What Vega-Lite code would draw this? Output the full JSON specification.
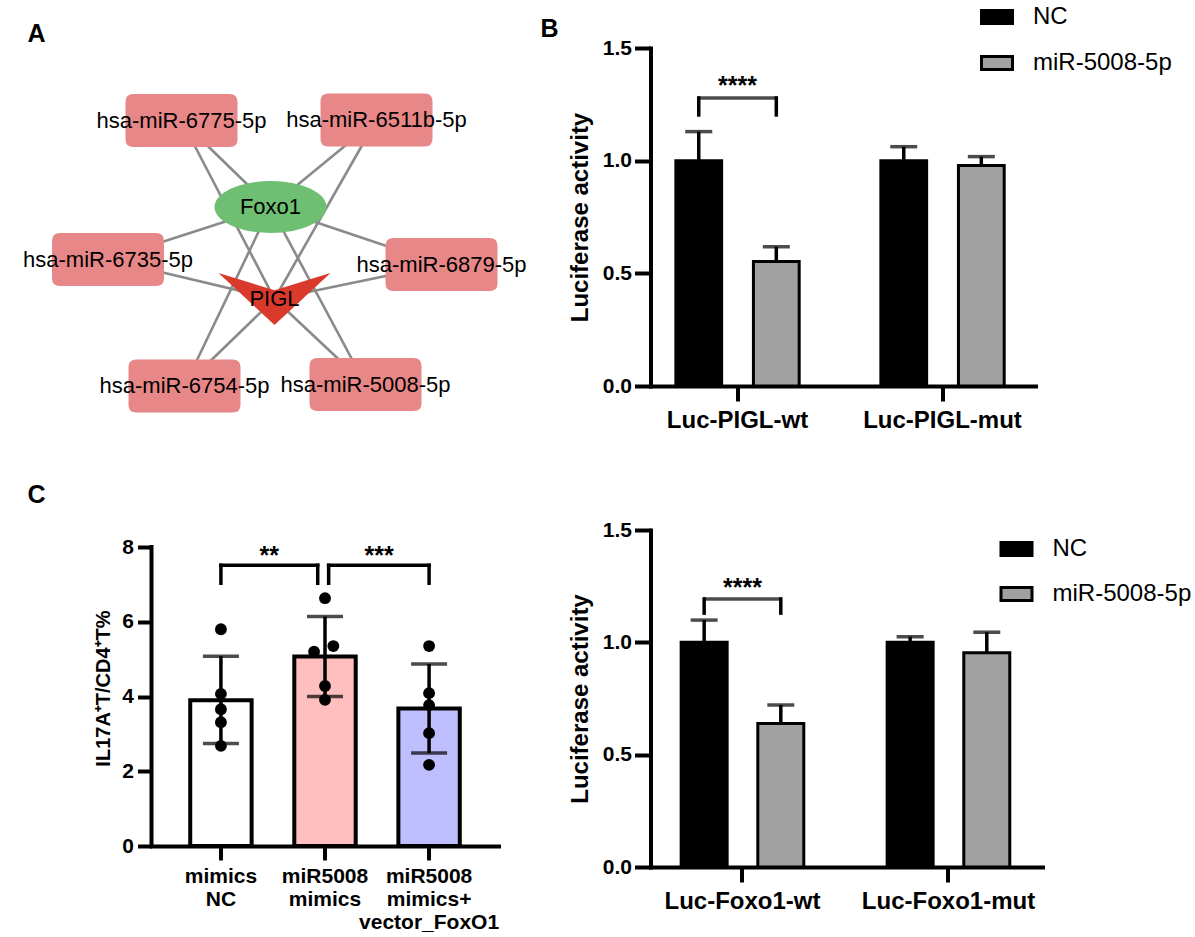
{
  "$schema": "https://vega.github.io/schema/vega-lite/v6.json",
  "background": "white",
  "padding": {"left": 22.5, "top": 0, "right": 0, "bottom": 0},
  "config": {
    "view": {"stroke": null},
    "font": "Liberation Sans",
    "axis": {"grid": false, "labelColor": "black", "titleColor": "black", "domainColor": "black", "tickColor": "black", "labelFontWeight": "bold", "titleFontWeight": "bold", "labelFlush": false, "labelOverlap": false, "domainCap": "square"},
    "title": {"fontSize": 25, "fontWeight": "bold", "anchor": "start", "frame": "group", "baseline": "alphabetic", "color": "black", "font": "Liberation Sans"},
    "legend": {"symbolType": "M-1,-0.42L1,-0.42L1,0.42L-1,0.42Z", "symbolSize": 961, "symbolStrokeColor": "black", "symbolStrokeWidth": 3, "symbolOpacity": 1, "labelFontSize": 24, "labelColor": "black", "labelFont": "Liberation Sans", "labelOffset": 19, "rowPadding": 16, "padding": 0}
  },
  "datasets": {
    "nodes": [
      {"id": "hsa-miR-6775-5p", "kind": "miRNA", "u": -0.93, "v": 1.795},
      {"id": "hsa-miR-6511b-5p", "kind": "miRNA", "u": 1.02, "v": 1.8},
      {"id": "hsa-miR-6735-5p", "kind": "miRNA", "u": -1.665, "v": 0.405},
      {"id": "hsa-miR-6879-5p", "kind": "miRNA", "u": 1.67, "v": 0.355},
      {"id": "hsa-miR-6754-5p", "kind": "miRNA", "u": -0.9, "v": -0.86},
      {"id": "hsa-miR-5008-5p", "kind": "miRNA", "u": 0.91, "v": -0.845},
      {"id": "Foxo1", "kind": "gene", "u": -0.04, "v": 0.93},
      {"id": "PIGL", "kind": "target", "u": 0, "v": 0.01}
    ],
    "edges": [
      {"from": "hsa-miR-6775-5p", "to": "Foxo1"}, {"from": "hsa-miR-6775-5p", "to": "PIGL"},
      {"from": "hsa-miR-6511b-5p", "to": "Foxo1"}, {"from": "hsa-miR-6511b-5p", "to": "PIGL"},
      {"from": "hsa-miR-6735-5p", "to": "Foxo1"}, {"from": "hsa-miR-6735-5p", "to": "PIGL"},
      {"from": "hsa-miR-6879-5p", "to": "Foxo1"}, {"from": "hsa-miR-6879-5p", "to": "PIGL"},
      {"from": "hsa-miR-6754-5p", "to": "Foxo1"}, {"from": "hsa-miR-6754-5p", "to": "PIGL"},
      {"from": "hsa-miR-5008-5p", "to": "Foxo1"}, {"from": "hsa-miR-5008-5p", "to": "PIGL"}
    ],
    "luc_pigl": [
      {"group": "Luc-PIGL-wt", "treatment": "NC", "mean": 1.0, "upper": 1.129},
      {"group": "Luc-PIGL-wt", "treatment": "miR-5008-5p", "mean": 0.552, "upper": 0.618},
      {"group": "Luc-PIGL-mut", "treatment": "NC", "mean": 1.0, "upper": 1.062},
      {"group": "Luc-PIGL-mut", "treatment": "miR-5008-5p", "mean": 0.978, "upper": 1.018}
    ],
    "pigl_sig": [
      {"group": "Luc-PIGL-wt", "treatment": "NC", "top": 1.278, "foot": 1.203, "starsY": 1.297, "stars": "****"},
      {"group": "Luc-PIGL-wt", "treatment": "miR-5008-5p", "top": 1.278, "foot": 1.203, "starsY": 1.297, "stars": "****"}
    ],
    "luc_foxo1": [
      {"group": "Luc-Foxo1-wt", "treatment": "NC", "mean": 1.0, "upper": 1.099},
      {"group": "Luc-Foxo1-wt", "treatment": "miR-5008-5p", "mean": 0.639, "upper": 0.721},
      {"group": "Luc-Foxo1-mut", "treatment": "NC", "mean": 1.0, "upper": 1.025},
      {"group": "Luc-Foxo1-mut", "treatment": "miR-5008-5p", "mean": 0.954, "upper": 1.045}
    ],
    "foxo1_sig": [
      {"group": "Luc-Foxo1-wt", "treatment": "NC", "top": 1.193, "foot": 1.13, "starsY": 1.207, "stars": "****"},
      {"group": "Luc-Foxo1-wt", "treatment": "miR-5008-5p", "top": 1.193, "foot": 1.13, "starsY": 1.207, "stars": "****"}
    ],
    "il17_bars": [
      {"group": "mimics NC", "mean": 3.9, "lower": 2.74, "upper": 5.08},
      {"group": "miR5008 mimics", "mean": 5.07, "lower": 4.0, "upper": 6.14},
      {"group": "miR5008 mimics+ vector_FoxO1", "mean": 3.68, "lower": 2.49, "upper": 4.87}
    ],
    "il17_points": [
      {"group": "mimics NC", "pos": 0, "value": 5.8},
      {"group": "mimics NC", "pos": 0, "value": 4.07},
      {"group": "mimics NC", "pos": 0, "value": 3.66},
      {"group": "mimics NC", "pos": 0, "value": 3.31},
      {"group": "mimics NC", "pos": 0, "value": 2.68},
      {"group": "miR5008 mimics", "pos": 1, "value": 6.63},
      {"group": "miR5008 mimics", "pos": 1.08, "value": 5.35},
      {"group": "miR5008 mimics", "pos": 0.895, "value": 5.2},
      {"group": "miR5008 mimics", "pos": 1, "value": 4.28},
      {"group": "miR5008 mimics", "pos": 1, "value": 3.91},
      {"group": "miR5008 mimics+ vector_FoxO1", "pos": 2, "value": 5.35},
      {"group": "miR5008 mimics+ vector_FoxO1", "pos": 2, "value": 4.09},
      {"group": "miR5008 mimics+ vector_FoxO1", "pos": 2, "value": 3.77},
      {"group": "miR5008 mimics+ vector_FoxO1", "pos": 2, "value": 3.02},
      {"group": "miR5008 mimics+ vector_FoxO1", "pos": 2, "value": 2.17}
    ],
    "il17_sig": [
      {"left": 0, "right": 0.93, "mid": 0.465, "top": 7.51, "foot": 7.03, "starsY": 7.55, "stars": "**"},
      {"left": 1.035, "right": 2, "mid": 1.52, "top": 7.51, "foot": 7.03, "starsY": 7.55, "stars": "***"}
    ]
  },
  "columns": 2,
  "spacing": {"row": 144, "column": 152},
  "bounds": "flush",
  "resolve": {"scale": {"color": "independent", "fill": "independent", "shape": "independent", "xOffset": "independent"}},
  "concat": [
    {
      "width": 347,
      "height": 338,
      "title": {"text": "A", "dx": -124, "offset": 1},
      "layer": [
        {
          "data": {"name": "edges"},
          "transform": [
            {"lookup": "from", "from": {"data": {"name": "nodes"}, "key": "id", "fields": ["u", "v"]}, "as": ["u1", "v1"]},
            {"lookup": "to", "from": {"data": {"name": "nodes"}, "key": "id", "fields": ["u", "v"]}, "as": ["u2", "v2"]}
          ],
          "mark": {"type": "rule", "color": "#8a8a8a", "strokeWidth": 2.6},
          "encoding": {
            "x": {"field": "u1", "type": "quantitative", "scale": {"domain": [-1.23, 2.24], "nice": false, "zero": false}, "axis": null},
            "y": {"field": "v1", "type": "quantitative", "scale": {"domain": [-0.86, 2.52], "nice": false, "zero": false}, "axis": null},
            "x2": {"field": "u2"},
            "y2": {"field": "v2"}
          }
        },
        {
          "data": {"name": "nodes"},
          "mark": {"type": "point", "filled": true, "opacity": 1, "size": 12544, "strokeWidth": 0},
          "encoding": {
            "x": {"field": "u", "type": "quantitative"},
            "y": {"field": "v", "type": "quantitative"},
            "shape": {"field": "kind", "type": "nominal", "legend": null, "scale": {"domain": ["miRNA", "gene", "target"], "range": ["M-0.86,-0.473L0.86,-0.473Q1,-0.473,1,-0.333L1,0.333Q1,0.473,0.86,0.473L-0.86,0.473Q-1,0.473,-1,0.333L-1,-0.333Q-1,-0.473,-0.86,-0.473Z", "M-1,0A1,0.464,0,1,0,1,0A1,0.464,0,1,0,-1,0Z", "M-1,-0.464L0,-0.155L1,-0.464L0,0.464Z"]}},
            "color": {"field": "kind", "type": "nominal", "legend": null, "scale": {"domain": ["miRNA", "gene", "target"], "range": ["#e88787", "#6fbf73", "#d93a2b"]}}
          }
        },
        {
          "data": {"name": "nodes"},
          "mark": {"type": "text", "fontSize": 22, "baseline": "middle", "align": "center", "color": "black"},
          "encoding": {
            "x": {"field": "u", "type": "quantitative"},
            "y": {"field": "v", "type": "quantitative"},
            "text": {"field": "id"}
          }
        }
      ]
    },
    {
      "width": 385,
      "height": 338,
      "title": {"text": "B", "dx": -110, "dy": 42, "offset": 0},
      "layer": [
        {
          "data": {"name": "luc_pigl"},
          "mark": {"type": "bar", "stroke": "black", "strokeWidth": 3},
          "encoding": {
            "x": {"field": "group", "type": "nominal", "scale": {"domain": ["Luc-PIGL-wt", "Luc-PIGL-mut"], "paddingInner": 0.151, "paddingOuter": 0.0145, "align": 0},
              "axis": {"title": null, "labelAngle": 0, "labelFontSize": 24, "labelPadding": 7, "tickSize": 15, "tickWidth": 4, "domainWidth": 4, "bandPosition": 0.5}},
            "xOffset": {"field": "treatment", "type": "nominal", "scale": {"domain": ["NC", "miR-5008-5p"], "paddingInner": 0.41, "paddingOuter": 0.327}},
            "y": {"field": "mean", "type": "quantitative", "scale": {"domain": [0, 1.5], "nice": false},
              "axis": {"title": "Luciferase activity", "values": [0, 0.5, 1, 1.5], "format": ".1f", "labelFontSize": 21, "tickSize": 16, "tickWidth": 4, "domainWidth": 4, "labelPadding": 3, "titleFontSize": 24, "titlePadding": 15, "titleBaseline": "alphabetic"}},
            "color": {"field": "treatment", "type": "nominal", "scale": {"domain": ["NC", "miR-5008-5p"], "range": ["#000000", "#a1a1a1"]},
              "legend": {"title": null, "orient": "none", "legendX": 329.5, "legendY": -48, "rowPadding": 16}}
          }
        },
        {
          "data": {"name": "luc_pigl"},
          "mark": {"type": "rule", "color": "black", "strokeWidth": 3.5},
          "encoding": {
            "x": {"field": "group", "type": "nominal"},
            "xOffset": {"field": "treatment", "type": "nominal"},
            "y": {"field": "mean", "type": "quantitative"},
            "y2": {"field": "upper"}
          }
        },
        {
          "data": {"name": "luc_pigl"},
          "mark": {"type": "tick", "color": "black", "size": 27, "thickness": 3.5},
          "encoding": {
            "x": {"field": "group", "type": "nominal"},
            "xOffset": {"field": "treatment", "type": "nominal"},
            "y": {"field": "upper", "type": "quantitative"}
          }
        },
        {
          "data": {"name": "pigl_sig"},
          "mark": {"type": "rule", "color": "black", "strokeWidth": 3.5, "strokeCap": "square"},
          "encoding": {
            "x": {"field": "group", "type": "nominal"},
            "xOffset": {"field": "treatment", "type": "nominal"},
            "y": {"field": "foot", "type": "quantitative"},
            "y2": {"field": "top"}
          }
        },
        {
          "data": {"name": "pigl_sig"},
          "transform": [{"filter": "datum.treatment === 'NC'"}],
          "mark": {"type": "tick", "color": "black", "size": 80, "thickness": 3.5},
          "encoding": {
            "x": {"field": "group", "type": "nominal"},
            "y": {"field": "top", "type": "quantitative"}
          }
        },
        {
          "data": {"name": "pigl_sig"},
          "transform": [{"filter": "datum.treatment === 'NC'"}],
          "mark": {"type": "text", "fontSize": 25, "fontWeight": "bold", "baseline": "alphabetic", "align": "center", "color": "black"},
          "encoding": {
            "x": {"field": "group", "type": "nominal"},
            "y": {"field": "starsY", "type": "quantitative"},
            "text": {"field": "stars"}
          }
        }
      ]
    },
    {
      "width": 347,
      "height": 316,
      "title": {"text": "C", "dx": -124, "offset": 22},
      "resolve": {"scale": {"x": "independent"}},
      "layer": [
        {
          "data": {"name": "il17_bars"},
          "layer": [
            {
              "mark": {"type": "bar", "stroke": "black", "strokeWidth": 4},
              "encoding": {
                "x": {"field": "group", "type": "nominal", "scale": {"domain": ["mimics NC", "miR5008 mimics", "miR5008 mimics+ vector_FoxO1"], "paddingInner": 0.41, "paddingOuter": 0.372},
                  "axis": {"title": null, "labelAngle": 0, "labelExpr": "split(datum.value, ' ')", "labelFontSize": 21, "labelLineHeight": 23, "labelPadding": 5, "tickSize": 14, "tickWidth": 4, "domainWidth": 4, "bandPosition": 0.5}},
                "y": {"field": "mean", "type": "quantitative", "scale": {"domain": [0, 8.455], "nice": false},
                  "axis": {"title": "IL17A⁺T/CD4⁺T%", "values": [0, 2, 4, 6, 8], "domain": false, "labelFontSize": 21, "tickSize": 14, "tickWidth": 4, "labelPadding": 4, "titleFontSize": 20, "titlePadding": 12, "titleBaseline": "alphabetic"}},
                "fill": {"field": "group", "type": "nominal", "legend": null, "scale": {"domain": ["mimics NC", "miR5008 mimics", "miR5008 mimics+ vector_FoxO1"], "range": ["#ffffff", "#ffbfbf", "#bfbfff"]}}
              }
            },
            {
              "mark": {"type": "rule", "color": "black", "strokeWidth": 3.5},
              "encoding": {
                "x": {"field": "group", "type": "nominal"},
                "y": {"field": "lower", "type": "quantitative"},
                "y2": {"field": "upper"}
              }
            },
            {
              "mark": {"type": "tick", "color": "black", "size": 36, "thickness": 3.5},
              "encoding": {
                "x": {"field": "group", "type": "nominal"},
                "y": {"field": "upper", "type": "quantitative"}
              }
            },
            {
              "mark": {"type": "tick", "color": "black", "size": 36, "thickness": 3.5},
              "encoding": {
                "x": {"field": "group", "type": "nominal"},
                "y": {"field": "lower", "type": "quantitative"}
              }
            }
          ]
        },
        {
          "data": {"name": "il17_sig"},
          "layer": [
            {
              "data": {"name": "il17_points"},
              "mark": {"type": "point", "filled": true, "color": "black", "size": 140, "opacity": 1},
              "encoding": {
                "x": {"field": "pos", "type": "quantitative", "scale": {"domain": [-0.667, 2.667], "nice": false, "zero": false}, "axis": null},
                "y": {"field": "value", "type": "quantitative"}
              }
            },
            {
              "mark": {"type": "rule", "color": "black", "strokeWidth": 3.5, "strokeCap": "square"},
              "encoding": {
                "x": {"field": "left", "type": "quantitative", "axis": null},
                "x2": {"field": "right"},
                "y": {"field": "top", "type": "quantitative"}
              }
            },
            {
              "mark": {"type": "rule", "color": "black", "strokeWidth": 3.5, "strokeCap": "square"},
              "encoding": {
                "x": {"field": "left", "type": "quantitative", "axis": null},
                "y": {"field": "foot", "type": "quantitative"},
                "y2": {"field": "top"}
              }
            },
            {
              "mark": {"type": "rule", "color": "black", "strokeWidth": 3.5, "strokeCap": "square"},
              "encoding": {
                "x": {"field": "right", "type": "quantitative", "axis": null},
                "y": {"field": "foot", "type": "quantitative"},
                "y2": {"field": "top"}
              }
            },
            {
              "mark": {"type": "text", "fontSize": 25, "fontWeight": "bold", "baseline": "alphabetic", "align": "center", "color": "black"},
              "encoding": {
                "x": {"field": "mid", "type": "quantitative", "axis": null},
                "y": {"field": "starsY", "type": "quantitative"},
                "text": {"field": "stars"}
              }
            },
            {
              "data": {"values": [{}]},
              "mark": {"type": "rule", "color": "black", "strokeWidth": 4, "strokeCap": "square"},
              "encoding": {
                "x": {"datum": -0.667, "type": "quantitative", "axis": null},
                "y": {"datum": 0, "type": "quantitative"},
                "y2": {"datum": 8}
              }
            }
          ]
        }
      ]
    },
    {
      "width": 392,
      "height": 337,
      "layer": [
        {
          "data": {"name": "luc_foxo1"},
          "mark": {"type": "bar", "stroke": "black", "strokeWidth": 3},
          "encoding": {
            "x": {"field": "group", "type": "nominal", "scale": {"domain": ["Luc-Foxo1-wt", "Luc-Foxo1-mut"], "paddingInner": 0.107, "paddingOuter": 0.005, "align": 0},
              "axis": {"title": null, "labelAngle": 0, "labelFontSize": 24, "labelPadding": 7, "tickSize": 15, "tickWidth": 4, "domainWidth": 4, "bandPosition": 0.5}},
            "xOffset": {"field": "treatment", "type": "nominal", "scale": {"domain": ["NC", "miR-5008-5p"], "paddingInner": 0.4, "paddingOuter": 0.4}},
            "y": {"field": "mean", "type": "quantitative", "scale": {"domain": [0, 1.5], "nice": false},
              "axis": {"title": "Luciferase activity", "values": [0, 0.5, 1, 1.5], "format": ".1f", "labelFontSize": 21, "tickSize": 16, "tickWidth": 4, "domainWidth": 4, "labelPadding": 3, "titleFontSize": 24, "titlePadding": 15, "titleBaseline": "alphabetic"}},
            "color": {"field": "treatment", "type": "nominal", "scale": {"domain": ["NC", "miR-5008-5p"], "range": ["#000000", "#a1a1a1"]},
              "legend": {"title": null, "orient": "none", "legendX": 349, "legendY": 2, "rowPadding": 15}}
          }
        },
        {
          "data": {"name": "luc_foxo1"},
          "mark": {"type": "rule", "color": "black", "strokeWidth": 3.5},
          "encoding": {
            "x": {"field": "group", "type": "nominal"},
            "xOffset": {"field": "treatment", "type": "nominal"},
            "y": {"field": "mean", "type": "quantitative"},
            "y2": {"field": "upper"}
          }
        },
        {
          "data": {"name": "luc_foxo1"},
          "mark": {"type": "tick", "color": "black", "size": 27, "thickness": 3.5},
          "encoding": {
            "x": {"field": "group", "type": "nominal"},
            "xOffset": {"field": "treatment", "type": "nominal"},
            "y": {"field": "upper", "type": "quantitative"}
          }
        },
        {
          "data": {"name": "foxo1_sig"},
          "mark": {"type": "rule", "color": "black", "strokeWidth": 3.5, "strokeCap": "square"},
          "encoding": {
            "x": {"field": "group", "type": "nominal"},
            "xOffset": {"field": "treatment", "type": "nominal"},
            "y": {"field": "foot", "type": "quantitative"},
            "y2": {"field": "top"}
          }
        },
        {
          "data": {"name": "foxo1_sig"},
          "transform": [{"filter": "datum.treatment === 'NC'"}],
          "mark": {"type": "tick", "color": "black", "size": 78, "thickness": 3.5},
          "encoding": {
            "x": {"field": "group", "type": "nominal"},
            "y": {"field": "top", "type": "quantitative"}
          }
        },
        {
          "data": {"name": "foxo1_sig"},
          "transform": [{"filter": "datum.treatment === 'NC'"}],
          "mark": {"type": "text", "fontSize": 25, "fontWeight": "bold", "baseline": "alphabetic", "align": "center", "color": "black"},
          "encoding": {
            "x": {"field": "group", "type": "nominal"},
            "y": {"field": "starsY", "type": "quantitative"},
            "text": {"field": "stars"}
          }
        }
      ]
    }
  ]
}
